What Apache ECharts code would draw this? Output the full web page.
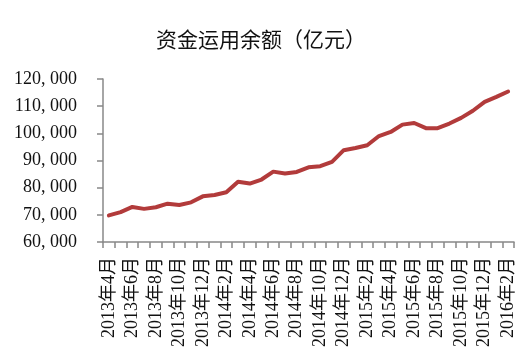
<!DOCTYPE html>
<html>
<head>
<meta charset="utf-8">
<script src="https://cdn.jsdelivr.net/npm/echarts@6/dist/echarts.min.js"></script>
<style>html,body{margin:0;padding:0;background:#fff;}#c{width:528px;height:362px;}</style>
</head>
<body>
<div id="c"></div>
<script>
var titleText = '资金运用余额（亿元）';
var categories = [
  '2013年4月','2013年5月','2013年6月','2013年7月','2013年8月','2013年9月','2013年10月','2013年11月','2013年12月',
  '2014年1月','2014年2月','2014年3月','2014年4月','2014年5月','2014年6月','2014年7月','2014年8月','2014年9月','2014年10月','2014年11月','2014年12月',
  '2015年1月','2015年2月','2015年3月','2015年4月','2015年5月','2015年6月','2015年7月','2015年8月','2015年9月','2015年10月','2015年11月','2015年12月',
  '2016年1月','2016年2月'
];
var balance = [
  69800, 71000, 72900, 72200, 72800, 74100, 73600, 74600, 76800,
  77300, 78300, 82200, 81500, 83000, 85900, 85200, 85800, 87500, 87900, 89500, 93800,
  94600, 95600, 99000, 100500, 103200, 103800, 101900, 101900, 103600, 105700, 108300, 111600,
  113400, 115400
];
var yMin = 60000, yMax = 120000, yStep = 10000;

var chart = echarts.init(document.getElementById('c'), null, {renderer: 'canvas'});
chart.setOption({
  animation: false,
  backgroundColor: '#ffffff',
  title: {
    text: titleText,
    left: 256, top: 24, textAlign: 'center',
    textStyle: {fontFamily: 'Noto Sans CJK SC', fontSize: 21, fontWeight: 'normal', color: '#111'}
  },
  grid: {left: 103, right: 14, top: 79, bottom: 120, containLabel: false},
  xAxis: {
    type: 'category',
    data: categories,
    boundaryGap: true,
    axisLine: {lineStyle: {color: '#888', width: 1.5}},
    axisTick: {show: true, interval: 0, length: 6, lineStyle: {color: '#888', width: 1.5}},
    axisLabel: {
      interval: 1, rotate: 90, margin: 15,
      fontFamily: 'Liberation Serif, Noto Sans CJK SC', fontSize: 18, color: '#111'
    },
    splitLine: {show: false}
  },
  yAxis: {
    type: 'value',
    min: yMin, max: yMax, interval: yStep,
    axisLine: {show: true, lineStyle: {color: '#888', width: 1.5}},
    axisTick: {show: true, length: 6, lineStyle: {color: '#888', width: 1.5}},
    axisLabel: {
      margin: 26, fontFamily: 'Liberation Serif', fontSize: 18, color: '#111',
      formatter: function (v) {
        var s = String(v);
        return s.slice(0, s.length - 3) + ', ' + s.slice(s.length - 3);
      }
    },
    splitLine: {show: false}
  },
  series: [{
    type: 'line',
    data: balance,
    symbol: 'none',
    smooth: false,
    lineStyle: {color: '#b23b3b', width: 4, join: 'round', cap: 'round'}
  }]
});
</script>
</body>
</html>
